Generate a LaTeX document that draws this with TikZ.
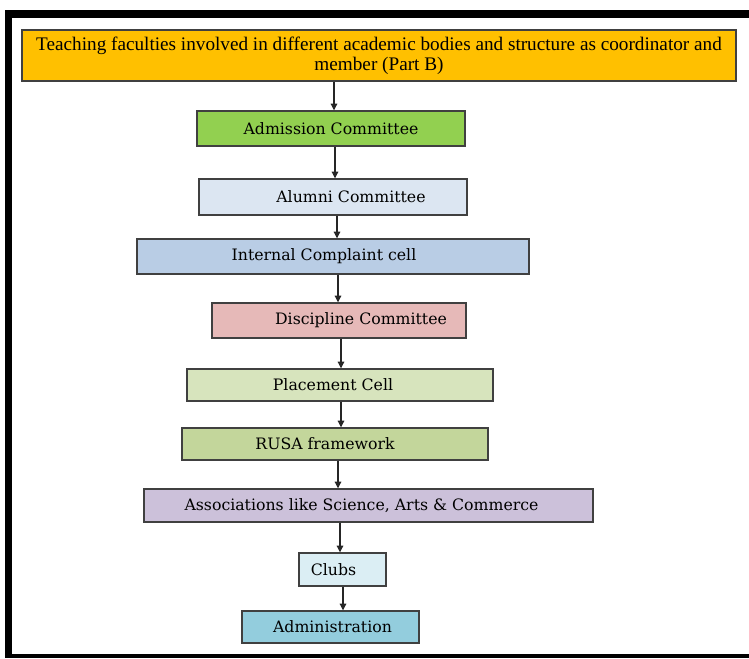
\documentclass[tikz,border=0pt]{standalone}
\usepackage{fontspec}
\setmainfont{Liberation Serif}
\newfontfamily\boxfont{DejaVu Serif}
\usetikzlibrary{arrows.meta}
\newdimen\pxu \pxu=0.75pt
\definecolor{topc}{HTML}{FFC000}
\definecolor{admc}{HTML}{92D050}
\definecolor{alumc}{HTML}{DCE6F2}
\definecolor{intc}{HTML}{B9CDE5}
\definecolor{disc}{HTML}{E6B9B8}
\definecolor{plac}{HTML}{D7E4BD}
\definecolor{rusac}{HTML}{C3D69B}
\definecolor{assc}{HTML}{CCC1DA}
\definecolor{clubc}{HTML}{DBEEF4}
\definecolor{adminc}{HTML}{93CDDD}
\tikzset{
  box/.style={draw=black!75, line width=1.1pt, inner sep=0pt, font=\boxfont\fontsize{11.8}{13}\selectfont, text=black},
  arr/.style={draw=black!85, line width=0.8pt, -{Triangle[length=5pt,width=5pt]}},
}
\newcommand\flowbox[9]{%
  \node[box, fill=#6, minimum width={(#4-#2)*0.75pt}, minimum height={(#5-#3)*0.75pt}] (#1) at ({(#2+#4)/2},{(#3+#5)/2}) {\hspace*{#7\pxu}#9\hspace*{#8\pxu}};}
\begin{document}
\begin{tikzpicture}[x=0.75pt,y=-0.75pt]
\useasboundingbox (0,0) rectangle (749,658);
% frame
\fill[black] (5,10) rectangle (749,18);
\fill[black] (5,10) rectangle (12,658);
\fill[black] (5,654) rectangle (749,658);
% top box
\node[draw=black!75, line width=1.1pt, fill=topc, inner sep=0pt, minimum width={714*0.75pt}, minimum height={51*0.75pt}, align=center, font=\fontsize{14.4}{15}\selectfont, text=black] (top) at (379,55.5) {Teaching faculties involved in different academic bodies and structure as coordinator and\\member (Part B)};
\flowbox{adm}{197}{111}{465}{146}{admc}{0}{0}{Admission Committee}
\flowbox{alum}{199}{179}{467}{215}{alumc}{36}{0}{Alumni Committee}
\flowbox{intc}{137}{239}{529}{274}{intc}{0}{18}{Internal Complaint cell}
\flowbox{disc}{212}{303}{466}{338}{disc}{44}{0}{Discipline Committee}
\flowbox{plac}{187}{369}{493}{401}{plac}{0}{14}{Placement Cell}
\flowbox{rusa}{182}{428}{488}{460}{rusac}{0}{20}{RUSA framework}
\flowbox{assoc}{144}{489}{593}{522}{assc}{0}{14}{Associations like Science, Arts \& Commerce}
\flowbox{club}{299}{553}{386}{586}{clubc}{0}{18}{Clubs}
\flowbox{admin}{242}{611}{419}{643}{adminc}{4}{0}{Administration}
% arrows
\draw[arr] (top.south -| 334,0) -- (adm.north -| 334,0);
\draw[arr] (adm.south -| 335,0) -- (alum.north -| 335,0);
\draw[arr] (alum.south -| 337,0) -- (intc.north -| 337,0);
\draw[arr] (intc.south -| 338,0) -- (disc.north -| 338,0);
\draw[arr] (disc.south -| 341,0) -- (plac.north -| 341,0);
\draw[arr] (plac.south -| 341,0) -- (rusa.north -| 341,0);
\draw[arr] (rusa.south -| 338,0) -- (assoc.north -| 338,0);
\draw[arr] (assoc.south -| 340,0) -- (club.north -| 340,0);
\draw[arr] (club.south -| 343,0) -- (admin.north -| 343,0);
\end{tikzpicture}
\end{document}
